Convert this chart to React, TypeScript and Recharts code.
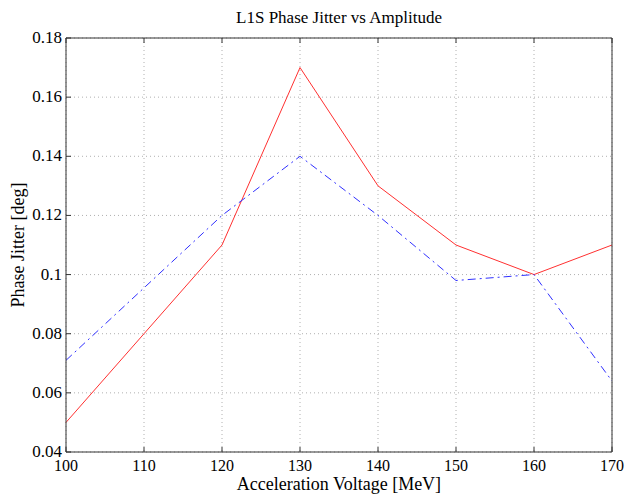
import { LineChart, Line, XAxis, YAxis, CartesianGrid } from 'recharts';

const voltages = [100, 110, 120, 130, 140, 150, 160, 170];
const jitterRed = [0.05, 0.08, 0.11, 0.17, 0.13, 0.11, 0.1, 0.11];
const jitterBlue = [0.071, 0.0955, 0.12, 0.14, 0.12, 0.098, 0.1, 0.064];
const xTicks = [100, 110, 120, 130, 140, 150, 160, 170];
const yTicks = [0.04, 0.06, 0.08, 0.1, 0.12, 0.14, 0.16, 0.18];

const data = voltages.map((v, i) => ({ v, red: jitterRed[i], blue: jitterBlue[i] }));

const font = '"Liberation Serif", "Times New Roman", serif';
const TICK_LEN = 5;

function BottomTick({ x, y, payload }: any) {
  return (
    <g>
      <line x1={x} x2={x} y1={y} y2={y - TICK_LEN} stroke="#333" />
      <text x={x} y={y + 19} textAnchor="middle" fontFamily={font} fontSize={16} fill="#000">
        {payload.value}
      </text>
    </g>
  );
}

function TopTick({ x, y }: any) {
  return <line x1={x} x2={x} y1={y} y2={y + TICK_LEN} stroke="#333" />;
}

function LeftTick({ x, y, payload }: any) {
  return (
    <g>
      <line x1={x} x2={x + TICK_LEN} y1={y} y2={y} stroke="#333" />
      <text x={x - 4} y={y + 5} textAnchor="end" fontFamily={font} fontSize={17} fill="#000">
        {payload.value}
      </text>
    </g>
  );
}

function RightTick({ x, y }: any) {
  return <line x1={x} x2={x - TICK_LEN} y1={y} y2={y} stroke="#333" />;
}

export default function App() {
  return (
    <div style={{ position: 'fixed', left: 0, top: 0, width: 628, height: 494, background: '#fff' }}>
      <LineChart width={628} height={494} data={data} margin={{ top: 0, right: 0, left: 0, bottom: 0 }}>
        <CartesianGrid xAxisId="b" yAxisId="l" stroke="#b0b0b0" strokeDasharray="1 3" />
        <XAxis
          xAxisId="b"
          dataKey="v"
          type="number"
          domain={[100, 170]}
          ticks={xTicks}
          height={42}
          tickSize={0}
          tickMargin={0}
          tick={<BottomTick />}
          axisLine={{ stroke: '#333' }}
          interval={0}
        />
        <XAxis
          xAxisId="t"
          orientation="top"
          dataKey="v"
          type="number"
          domain={[100, 170]}
          ticks={xTicks}
          height={38}
          tickSize={0}
          tickMargin={0}
          tick={<TopTick />}
          axisLine={{ stroke: '#333' }}
          interval={0}
        />
        <YAxis
          yAxisId="l"
          type="number"
          domain={[0.04, 0.18]}
          ticks={yTicks}
          width={66}
          tickSize={0}
          tickMargin={0}
          tick={<LeftTick />}
          axisLine={{ stroke: '#333' }}
          interval={0}
        />
        <YAxis
          yAxisId="r"
          orientation="right"
          type="number"
          domain={[0.04, 0.18]}
          ticks={yTicks}
          width={16}
          tickSize={0}
          tickMargin={0}
          tick={<RightTick />}
          axisLine={{ stroke: '#333' }}
          interval={0}
        />
        <Line
          xAxisId="b"
          yAxisId="l"
          dataKey="red"
          stroke="#ff3030"
          strokeWidth={1}
          dot={false}
          isAnimationActive={false}
        />
        <Line
          xAxisId="b"
          yAxisId="l"
          dataKey="blue"
          stroke="#3030ff"
          strokeWidth={1}
          strokeDasharray="8 4 2 4"
          dot={false}
          isAnimationActive={false}
        />
      </LineChart>
      <div
        style={{
          position: 'absolute',
          left: 66,
          width: 546,
          top: 8,
          textAlign: 'center',
          fontFamily: font,
          fontSize: 17,
          lineHeight: '20px',
        }}
      >
        L1S Phase Jitter vs Amplitude
      </div>
      <div
        style={{
          position: 'absolute',
          left: 66,
          width: 546,
          top: 475,
          textAlign: 'center',
          fontFamily: font,
          fontSize: 18,
          lineHeight: '18px',
        }}
      >
        Acceleration Voltage [MeV]
      </div>
      <div
        style={{
          position: 'absolute',
          left: 18 - 100,
          top: 245 - 10,
          width: 200,
          textAlign: 'center',
          fontFamily: font,
          fontSize: 18,
          lineHeight: '20px',
          transform: 'rotate(-90deg)',
        }}
      >
        Phase Jitter [deg]
      </div>
    </div>
  );
}
